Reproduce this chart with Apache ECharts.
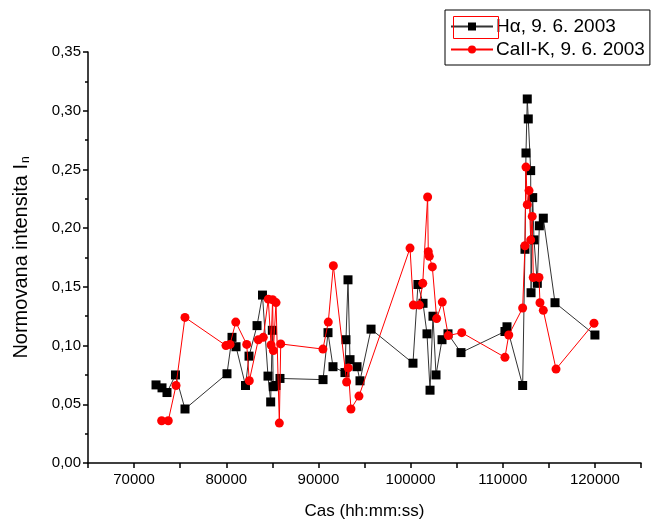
<!DOCTYPE html>
<html>
<head>
<meta charset="utf-8">
<script src="https://cdn.jsdelivr.net/npm/echarts@6/dist/echarts.min.js"></script>
<style>
  html, body { margin: 0; padding: 0; background: #fff; }
  #chart { width: 657px; height: 525px; }
</style>
</head>
<body>
<div id="chart"></div>
<script>
// Time of observation (s) and normalised intensity, H-alpha line
const haTime = [72380, 73030, 73570, 74490, 75525, 80080, 80625, 81060, 82090, 82470,
  83340, 83930, 84530, 84820, 85000, 85100, 85400, 85830, 90500, 91040,
  91580, 92880, 92990, 93210, 93430, 94190, 94510, 95710, 100260, 100800,
  101350, 101780, 102110, 102430, 102760, 103410, 104060, 105470, 110240, 110460,
  112160, 112410, 112520, 112660, 112770, 113030, 113070, 113250, 113390, 113750,
  113970, 114400, 115670, 120000];
const haValue = [0.0665, 0.064, 0.060, 0.075, 0.046, 0.076, 0.107, 0.099, 0.066, 0.091,
  0.117, 0.143, 0.074, 0.052, 0.113, 0.065, 0.066, 0.072, 0.071, 0.111,
  0.082, 0.077, 0.105, 0.156, 0.088, 0.082, 0.070, 0.114, 0.085, 0.152,
  0.136, 0.110, 0.062, 0.125, 0.075, 0.105, 0.110, 0.094, 0.112, 0.116,
  0.066, 0.182, 0.264, 0.310, 0.293, 0.249, 0.145, 0.226, 0.190, 0.153,
  0.202, 0.2085, 0.1365, 0.109];

// Time of observation (s) and normalised intensity, Ca II K line
const caTime = [72990, 73710, 74550, 75520, 79970, 80410, 81030, 82220, 82500, 83480,
  84020, 84560, 84860, 85030, 85110, 85400, 85760, 85910, 90490, 91070,
  91620, 93060, 93240, 93530, 94400, 99940, 100300, 100950, 101320, 101850,
  101920, 102030, 102360, 102830, 103440, 104090, 105550, 110240, 110650, 112160,
  112410, 112520, 112660, 112850, 113030, 113200, 113310, 113930, 114040, 114400,
  115780, 119900];
const caValue = [0.036, 0.036, 0.066, 0.124, 0.100, 0.101, 0.120, 0.101, 0.070, 0.105,
  0.107, 0.1395, 0.1005, 0.139, 0.0957, 0.1366, 0.034, 0.1014, 0.097, 0.120,
  0.168, 0.069, 0.081, 0.046, 0.057, 0.183, 0.1345, 0.1345, 0.153, 0.2265,
  0.180, 0.176, 0.167, 0.123, 0.137, 0.1085, 0.111, 0.090, 0.109, 0.132,
  0.185, 0.252, 0.220, 0.232, 0.190, 0.210, 0.158, 0.158, 0.1365, 0.130,
  0.080, 0.119];

const seriesNames = ['H\u03b1, 9. 6. 2003', 'CaII-K, 9. 6. 2003'];
const xTickLabels = [70000, 80000, 90000, 100000, 110000, 120000];

const pairs = (xs, ys) => xs.map((x, i) => [x, ys[i]]);
const FONT = 'Liberation Sans, Arial, sans-serif';

const chart = echarts.init(document.getElementById('chart'), null, { renderer: 'canvas' });
chart.setOption({
  animation: false,
  backgroundColor: '#fff',
  grid: { left: 88, right: 16, top: 52, bottom: 62 },
  legend: {
    orient: 'vertical',
    left: 445,
    top: 10,
    padding: [7, 5, 6, 5],
    itemGap: 4,
    itemWidth: 42,
    itemHeight: 10,
    borderColor: '#000',
    borderWidth: 1,
    backgroundColor: '#fff',
    textStyle: { fontFamily: FONT, fontSize: 19, color: '#000', padding: [0, 0, 0, -2] },
    data: seriesNames
  },
  xAxis: {
    type: 'value',
    min: 65000,
    max: 125000,
    interval: 5000,
    name: 'Cas (hh:mm:ss)',
    nameLocation: 'middle',
    nameGap: 40,
    nameTextStyle: { fontFamily: FONT, fontSize: 17, color: '#000' },
    axisLine: { show: true, onZero: false, lineStyle: { color: '#000', width: 1.5 } },
    axisTick: { show: true, length: 5, lineStyle: { color: '#000', width: 1.5 } },
    axisLabel: {
      fontFamily: FONT, fontSize: 15, color: '#000', margin: 9,
      formatter: v => (xTickLabels.indexOf(v) >= 0 ? String(v) : '')
    },
    splitLine: { show: false }
  },
  yAxis: {
    type: 'value',
    min: 0,
    max: 0.35,
    interval: 0.05,
    name: '{a|Normovana intensita I}{s|n}',
    nameLocation: 'middle',
    nameGap: 56,
    nameRotate: 90,
    nameTextStyle: {
      fontFamily: FONT, fontSize: 20, color: '#000',
      rich: {
        a: { fontFamily: FONT, fontSize: 20, color: '#000' },
        s: { fontFamily: FONT, fontSize: 12, color: '#000', verticalAlign: 'bottom', padding: [10, 0, 0, 1] }
      }
    },
    axisLine: { show: true, lineStyle: { color: '#000', width: 1.5 } },
    axisTick: { show: true, length: 5, lineStyle: { color: '#000', width: 1.5 } },
    minorTick: { show: true, splitNumber: 2, length: 3, lineStyle: { color: '#000', width: 1.5 } },
    axisLabel: {
      fontFamily: FONT, fontSize: 15, color: '#000', margin: 7,
      formatter: v => v.toFixed(2).replace('.', ',')
    },
    splitLine: { show: false }
  },
  graphic: [{
    type: 'rect',
    left: 451,
    top: 14,
    shape: { width: 45, height: 22 },
    style: { fill: null, stroke: '#ff0000', lineWidth: 1 },
    z: 100
  }],
  series: [
    {
      name: seriesNames[0],
      type: 'line',
      data: pairs(haTime, haValue),
      symbol: 'rect',
      symbolSize: 9,
      itemStyle: { color: '#000' },
      lineStyle: { color: '#333', width: 1 },
      z: 2
    },
    {
      name: seriesNames[1],
      type: 'line',
      data: pairs(caTime, caValue),
      symbol: 'circle',
      symbolSize: 9,
      itemStyle: { color: '#ff0000' },
      lineStyle: { color: '#ff0000', width: 1 },
      z: 3
    }
  ]
});
</script>
</body>
</html>
